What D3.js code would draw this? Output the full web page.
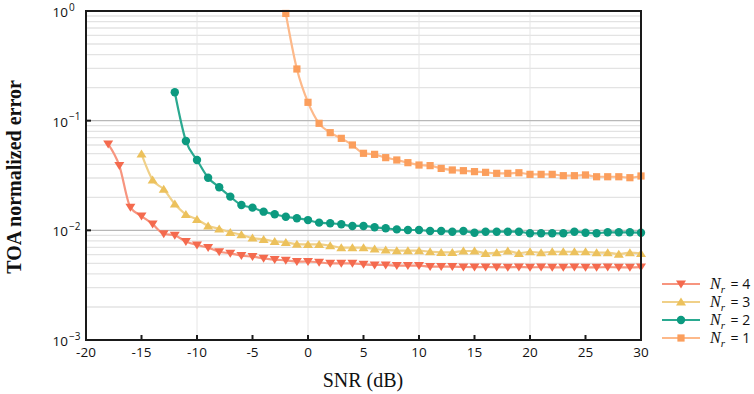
<!DOCTYPE html>
<html><head><meta charset="utf-8">
<script src="https://cdn.jsdelivr.net/npm/d3@7"></script>
<style>body{margin:0;background:#fff}svg{display:block}</style>
</head><body>
<script>
const snrNr4 = d3.range(-18, 31);
const valNr4 = [0.061,0.0389,0.0162,0.0135,0.0114,0.0093,0.0090,0.0079,0.00734,0.00695,0.00638,0.00617,0.00588,0.00575,0.00556,0.0054,0.00533,0.00518,0.0052,0.00511,0.0050,0.0050,0.0050,0.0049,0.00483,0.00483,0.00476,0.00476,0.00476,0.00466,0.00466,0.00466,0.00463,0.00462,0.00463,0.00461,0.0046,0.00462,0.0046,0.00461,0.0046,0.0046,0.00461,0.0046,0.0046,0.00461,0.0046,0.0046,0.00462];
const snrNr3 = d3.range(-15, 31);
const valNr3 = [0.0497,0.0288,0.0237,0.0174,0.0140,0.0126,0.0110,0.0103,0.0096,0.00912,0.00851,0.00828,0.00794,0.00778,0.0075,0.00746,0.00746,0.00725,0.00695,0.00695,0.00695,0.00676,0.00662,0.00652,0.00652,0.00652,0.00638,0.0063,0.0063,0.00648,0.00648,0.00617,0.00625,0.00648,0.00617,0.00638,0.00625,0.00638,0.00638,0.00638,0.00638,0.00625,0.00625,0.00608,0.00625,0.00617];
const snrNr2 = d3.range(-12, 31);
const valNr2 = [0.1815,0.0653,0.0438,0.0302,0.0247,0.0203,0.0170,0.0161,0.0148,0.0140,0.0133,0.0129,0.0124,0.01175,0.0116,0.01135,0.01096,0.01096,0.01066,0.01044,0.0102,0.01007,0.01007,0.00986,0.00986,0.00972,0.00986,0.00952,0.00972,0.00972,0.00972,0.00972,0.0094,0.0094,0.0094,0.0094,0.00972,0.00952,0.0094,0.0096,0.0096,0.0096,0.00952];
const snrNr1 = d3.range(-2, 31);
const valNr1 = [0.95,0.296,0.147,0.0946,0.0777,0.069,0.060,0.0504,0.0493,0.046,0.0438,0.0414,0.0394,0.0389,0.0367,0.0355,0.035,0.0343,0.0338,0.0331,0.0331,0.0335,0.0324,0.0324,0.0324,0.0315,0.0315,0.032,0.0308,0.0308,0.0308,0.0302,0.0313];
const xTicks = [-20,-15,-10,-5,0,5,10,15,20,25,30];
const yTicks = [1e-3,1e-2,1e-1,1];
const yExps = ["-3","-2","-1","0"];
const legendLabels = ["4","3","2","1"];

const W = 754, H = 394;
const m = {l:86, r:641, t:11, b:340};
const svg = d3.select("body").append("svg").attr("width", W).attr("height", H)
  .style("font-family", "'Open Sans', 'Noto Sans', sans-serif");

const x = d3.scaleLinear().domain([-20, 30]).range([m.l, m.r]);
const y = d3.scaleLog().domain([1e-3, 1]).range([m.b, m.t]);

// grid
const g = svg.append("g");
const minor = [];
for (let e = -3; e < 0; e++) for (let k = 2; k <= 9; k++) minor.push(k * Math.pow(10, e));
g.selectAll("line.mn").data(minor).join("line").attr("class","mn")
  .attr("x1", m.l).attr("x2", m.r).attr("y1", d => y(d)).attr("y2", d => y(d))
  .attr("stroke", "#e3e3e3").attr("stroke-width", 1.3);
g.selectAll("line.vg").data([-10, 0, 10, 20]).join("line").attr("class","vg")
  .attr("x1", d => x(d)).attr("x2", d => x(d)).attr("y1", m.t).attr("y2", m.b)
  .attr("stroke", "#e6e6e6").attr("stroke-width", 1);
g.selectAll("line.mj").data([1e-2, 1e-1]).join("line").attr("class","mj")
  .attr("x1", m.l).attr("x2", m.r).attr("y1", d => y(d)).attr("y2", d => y(d))
  .attr("stroke", "#b8b8b8").attr("stroke-width", 1.2);

// series
const series = [
  {snr: snrNr4, val: valNr4, line: "#f7957f", mark: "#f46a4e", sym: "down"},
  {snr: snrNr3, val: valNr3, line: "#f0d088", mark: "#ecc15c", sym: "up"},
  {snr: snrNr2, val: valNr2, line: "#2aa990", mark: "#0c9a80", sym: "circle"},
  {snr: snrNr1, val: valNr1, line: "#fdb98a", mark: "#fb9e5c", sym: "square"}
];
function drawMarker(sel, sym, color) {
  if (sym === "circle") sel.append("circle").attr("r", 4.2).attr("fill", color);
  else if (sym === "square") sel.append("rect").attr("x",-3.6).attr("y",-3.6).attr("width",7.2).attr("height",7.2).attr("fill", color);
  else if (sym === "down") sel.append("path").attr("d","M-5,-3.6L5,-3.6L0,4.4Z").attr("fill", color);
  else sel.append("path").attr("d","M-5,3.6L5,3.6L0,-4.4Z").attr("fill", color);
}
const lineGen = d3.line().curve(d3.curveMonotoneX);
series.forEach(s => {
  const pts = s.snr.map((v, i) => [x(v), y(s.val[i])]);
  svg.append("path").attr("d", lineGen(pts)).attr("fill","none")
    .attr("stroke", s.line).attr("stroke-width", 2.2);
  pts.forEach(p => {
    const mk = svg.append("g").attr("transform", `translate(${p[0]},${p[1]})`);
    drawMarker(mk, s.sym, s.mark);
  });
});

// frame
svg.append("rect").attr("x", m.l).attr("y", m.t).attr("width", m.r - m.l).attr("height", m.b - m.t)
  .attr("fill","none").attr("stroke","#1a1a1a").attr("stroke-width", 2);

// x ticks
const xa = svg.append("g");
xTicks.forEach(t => {
  xa.append("line").attr("x1", x(t)).attr("x2", x(t)).attr("y1", m.b).attr("y2", m.b - 5)
    .attr("stroke","#1a1a1a").attr("stroke-width", 2);
  xa.append("text").attr("x", x(t)).attr("y", m.b + 17).attr("text-anchor","middle")
    .attr("font-size", 13.5).attr("fill","#111").text(t);
});
// y ticks
yTicks.forEach((t, i) => {
  svg.append("line").attr("x1", m.l).attr("x2", m.l + 5).attr("y1", y(t)).attr("y2", y(t))
    .attr("stroke","#1a1a1a").attr("stroke-width", 2);
  svg.append("text").attr("x", 68).attr("y", y(t) + 6).attr("text-anchor","end")
    .attr("font-size", 13.5).attr("fill","#111").text("10");
  svg.append("text").attr("x", 69).attr("y", y(t) - 0.5).attr("text-anchor","start")
    .attr("font-size", 10).attr("fill","#111").text(yExps[i].replace("-", "\u2212"));
});

// titles
svg.append("text").attr("x", 363).attr("y", 387).attr("text-anchor","middle")
  .attr("font-family","'Liberation Serif', 'DejaVu Serif', serif").attr("font-size", 20)
  .attr("fill","#111").text("SNR (dB)");
svg.append("text").attr("transform", "translate(21,177) rotate(-90)").attr("text-anchor","middle")
  .attr("font-family","'Liberation Serif', 'DejaVu Serif', serif").attr("font-size", 20)
  .attr("font-weight","bold").attr("fill","#111").text("TOA normalized error");

// legend
const leg = svg.append("g");
series.forEach((s, i) => {
  const ly = 284 + i * 18;
  leg.append("line").attr("x1", 662).attr("x2", 700).attr("y1", ly).attr("y2", ly)
    .attr("stroke", s.line).attr("stroke-width", 2.2);
  const mk = leg.append("g").attr("transform", `translate(681,${ly})`);
  drawMarker(mk, s.sym, s.mark);
  const t = leg.append("text").attr("x", 710).attr("y", ly + 5).attr("font-size", 14).attr("fill","#111");
  t.append("tspan").attr("font-family","'Liberation Serif', serif").attr("font-style","italic").attr("font-size", 16).text("N");
  t.append("tspan").attr("font-family","'Liberation Serif', serif").attr("font-style","italic").attr("font-size", 11).attr("dy", 4).text("r");
  t.append("tspan").attr("dy", -4).attr("dx", 2).text(" = " + legendLabels[i]);
});
</script>
</body></html>
